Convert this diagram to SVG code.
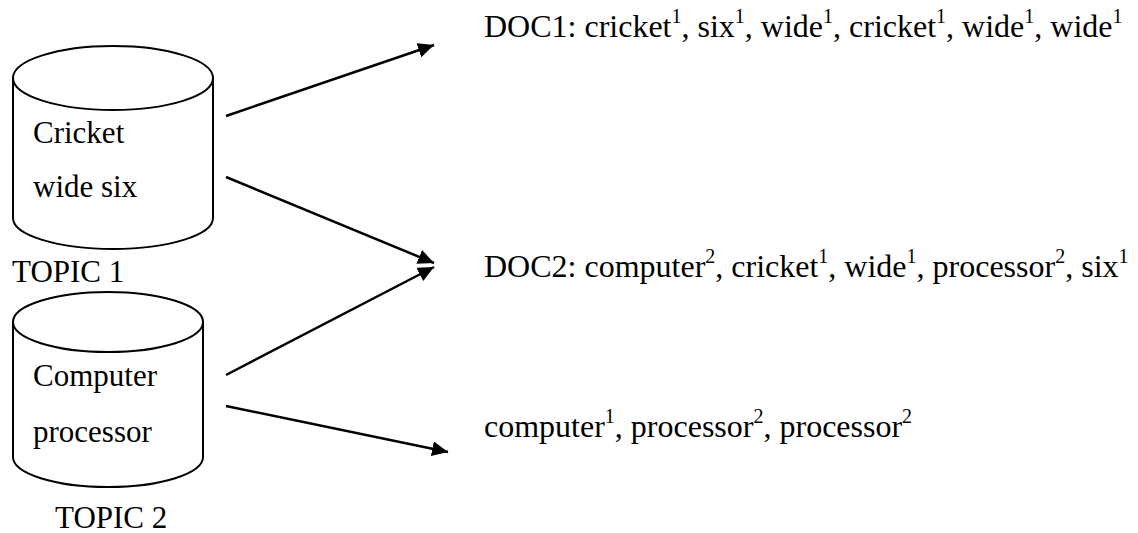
<svg xmlns="http://www.w3.org/2000/svg" width="1138" height="533" viewBox="0 0 1138 533">
  <style>
    text { font-family: "Liberation Serif", "DejaVu Serif", serif; fill: #000; }
    .t { font-size: 31px; }
    .d { font-size: 32px; }
    .sup { font-size: 20px; }
    .cyl { fill: #fff; stroke: #000; stroke-width: 2; }
    .arr { stroke: #000; stroke-width: 2.5; fill: none; marker-end: url(#head); }
  </style>
  <defs>
    <marker id="head" markerUnits="userSpaceOnUse" markerWidth="18" markerHeight="16" refX="16" refY="7.5" orient="auto">
      <path d="M0,0 L16,7.5 L0,15 Z" fill="#000"/>
    </marker>
  </defs>
  <rect width="1138" height="533" fill="#fff"/>

  <!-- topic store 1 -->
  <g id="topic1">
    <path class="cyl" d="M13,78 A100,32 0 0 1 213,78 L213,218 A100,31 0 0 1 13,218 Z"/>
    <path class="cyl" fill="none" d="M13,78 A100,32 0 0 0 213,78"/>
    <text class="t" x="33" y="143" font-family="Liberation Serif">Cricket</text>
    <text class="t" x="33" y="197" font-family="Liberation Serif">wide six</text>
    <text class="t" x="12" y="282" font-family="Liberation Serif">TOPIC 1</text>
  </g>

  <!-- topic store 2 -->
  <g id="topic2">
    <path class="cyl" d="M13,322 A95,30 0 0 1 203,322 L203,457 A95,30 0 0 1 13,457 Z"/>
    <path class="cyl" fill="none" d="M13,322 A95,30 0 0 0 203,322"/>
    <text class="t" x="33" y="386">Computer</text>
    <text class="t" x="33" y="442">processor</text>
    <text class="t" x="55" y="528">TOPIC 2</text>
  </g>

  <!-- generated documents -->
  <g id="doc1">
    <text class="d" x="484" y="37">DOC1: cricket<tspan class="sup" dy="-14">1</tspan><tspan dy="14">, six</tspan><tspan class="sup" dy="-14">1</tspan><tspan dy="14">, wide</tspan><tspan class="sup" dy="-14">1</tspan><tspan dy="14">, cricket</tspan><tspan class="sup" dy="-14">1</tspan><tspan dy="14">, wide</tspan><tspan class="sup" dy="-14">1</tspan><tspan dy="14">, wide</tspan><tspan class="sup" dy="-14">1</tspan></text>
  </g>
  <g id="doc2">
    <text class="d" x="484" y="277">DOC2: computer<tspan class="sup" dy="-14">2</tspan><tspan dy="14">, cricket</tspan><tspan class="sup" dy="-14">1</tspan><tspan dy="14">, wide</tspan><tspan class="sup" dy="-14">1</tspan><tspan dy="14">, processor</tspan><tspan class="sup" dy="-14">2</tspan><tspan dy="14">, six</tspan><tspan class="sup" dy="-14">1</tspan></text>
  </g>
  <g id="doc3">
    <text class="d" x="484" y="437">computer<tspan class="sup" dy="-14">1</tspan><tspan dy="14">, processor</tspan><tspan class="sup" dy="-14">2</tspan><tspan dy="14">, processor</tspan><tspan class="sup" dy="-14">2</tspan></text>
  </g>

  <!-- connectors -->
  <g id="connectors">
    <line class="arr" x1="226" y1="116" x2="434" y2="45"/>
    <line class="arr" x1="226" y1="177" x2="434" y2="263"/>
    <line class="arr" x1="226" y1="375" x2="434" y2="267"/>
    <line class="arr" x1="226" y1="406" x2="448" y2="452"/>
  </g>
</svg>
